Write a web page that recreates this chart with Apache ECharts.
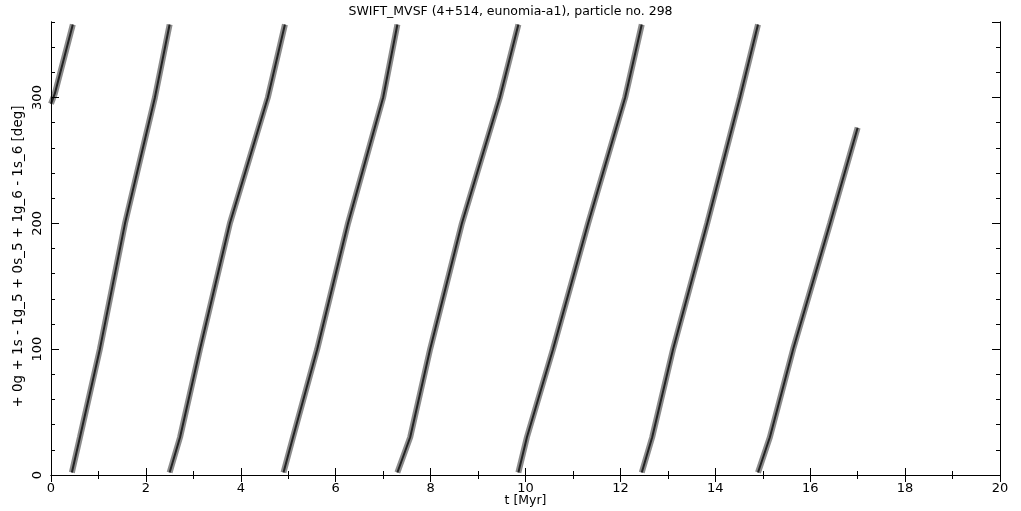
<!DOCTYPE html>
<html>
<head>
<meta charset="utf-8">
<script src="https://cdn.jsdelivr.net/npm/echarts@6/dist/echarts.min.js"></script>
<style>
html,body{margin:0;padding:0;background:#fff;}
#c{width:1021px;height:511px;}
</style>
</head>
<body>
<div id="c"></div>
<script>
// Resonant angle bands [t (Myr), angle (deg)]
const band0 = [[0.0, 295], [0.08, 303], [0.46, 358]];
const band1 = [[0.44, 2], [0.61, 30], [1.03, 100], [1.56, 200], [2.19, 300], [2.5, 358]];
const band2 = [[2.5, 2], [2.72, 30], [3.14, 100], [3.77, 200], [4.57, 300], [4.93, 358]];
const band3 = [[4.9, 2], [5.1, 30], [5.61, 100], [6.26, 200], [7.0, 300], [7.3, 358]];
const band4 = [[7.3, 2], [7.57, 30], [7.99, 100], [8.66, 200], [9.46, 300], [9.85, 358]];
const band5 = [[9.85, 2], [10.03, 30], [10.58, 100], [11.32, 200], [12.1, 300], [12.45, 358]];
const band6 = [[12.45, 2], [12.67, 30], [13.11, 100], [13.83, 200], [14.52, 300], [14.9, 358]];
const band7 = [[14.9, 2], [15.15, 30], [15.64, 100], [16.42, 200], [17.0, 276]];
const bands = [band0, band1, band2, band3, band4, band5, band6, band7];

const xTicks = [0, 2, 4, 6, 8, 10, 12, 14, 16, 18, 20];
const yTickLabels = [0, 100, 200, 300];

const titleText = 'SWIFT_MVSF (4+514, eunomia-a1), particle no. 298';
const xName = 't [Myr]';
const yName = '+ 0g + 1s - 1g_5 + 0s_5 + 1g_6 - 1s_6 [deg]';

const FONT = 'DejaVu Sans';
const chart = echarts.init(document.getElementById('c'), null, {renderer: 'canvas'});

const bandData = [];
bands.forEach((b, i) => {
  if (i > 0) bandData.push([null, null]);
  b.forEach(p => bandData.push(p));
});

const lineCommon = {show: true, lineStyle: {color: '#000', width: 1}};
const frameX = (pos, labels) => ({
  type: 'value', min: 0, max: 20, interval: 2, position: pos,
  axisLine: lineCommon,
  axisTick: {show: true, inside: true, length: 7, lineStyle: {color: '#000'}},
  minorTick: {show: true, splitNumber: 2, length: 4, lineStyle: {color: '#000'}},
  splitLine: {show: false}, minorSplitLine: {show: false},
  axisLabel: labels ? {show: true, color: '#000', fontFamily: FONT, fontSize: 13, margin: 7,
    formatter: v => xTicks.indexOf(v) >= 0 ? String(v) : ''} : {show: false},
  name: labels ? xName : '', nameLocation: 'middle', nameGap: 19, nameMoveOverlap: false,
  nameTextStyle: {color: '#000', fontFamily: FONT, fontSize: 12.5}
});
const frameY = (pos, major, labels) => ({
  type: 'value', min: 0, max: 360, interval: major ? 100 : 20, position: pos,
  axisLine: lineCommon,
  axisTick: {show: true, inside: true, length: major ? 8 : 4, lineStyle: {color: '#000'}},
  splitLine: {show: false},
  axisLabel: labels ? {show: true, color: '#000', fontFamily: FONT, fontSize: 13, rotate: 90,
    margin: 7, showMaxLabel: false,
    formatter: v => yTickLabels.indexOf(v) >= 0 ? String(v) : ''} : {show: false},
  name: labels ? yName : '', nameLocation: 'middle', nameGap: 26, nameRotate: 90, nameMoveOverlap: false,
  nameTextStyle: {color: '#000', fontFamily: FONT, fontSize: 13.5, padding: [0, 16, 0, 0]}
});

chart.setOption({
  animation: false,
  backgroundColor: '#fff',
  title: {text: titleText, left: 'center', top: 0,
    textStyle: {color: '#000', fontFamily: FONT, fontSize: 12.5, fontWeight: 'normal'}},
  grid: {left: 51, right: 21, top: 22, bottom: 36, containLabel: false, outerBoundsMode: 'none'},
  xAxis: [frameX('bottom', true), frameX('top', false)],
  yAxis: [frameY('left', true, true), frameY('left', false, false),
          frameY('right', true, false), frameY('right', false, false)],
  series: [
    {type: 'line', data: bandData, showSymbol: false, connectNulls: false,
      lineStyle: {color: '#000', width: 6, opacity: 0.45}, z: 2},
    {type: 'line', data: bandData, showSymbol: false, connectNulls: false,
      lineStyle: {color: '#000', width: 2, opacity: 0.75}, z: 3}
  ]
});
</script>
</body>
</html>
